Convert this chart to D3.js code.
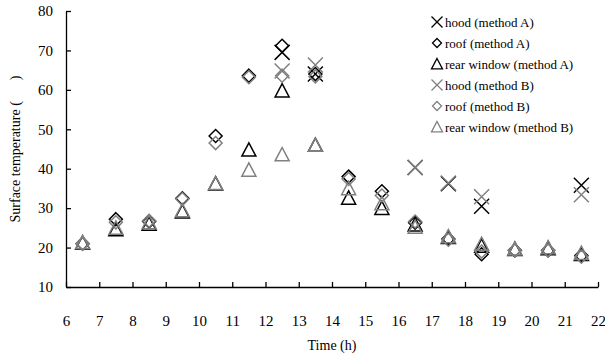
<!DOCTYPE html>
<html>
<head>
<meta charset="utf-8">
<script src="https://cdn.jsdelivr.net/npm/d3@7"></script>
<style>
    body { margin: 0; background: #fff; }
    svg text { font-family: "Liberation Serif", "Times New Roman", serif; fill: #000; }
</style>
</head>
<body>
<div id="chart"></div>
<script>
// hours at which samples were taken (plotted mid-hour)
const times = [6.5, 7.5, 8.5, 9.5, 10.5, 11.5, 12.5, 13.5, 14.5, 15.5, 16.5, 17.5, 18.5, 19.5, 20.5, 21.5];

// hood was only measured at a few times
const hoodTimes = [12.5, 13.5, 16.5, 17.5, 18.5, 21.5];
const hoodA = [69.5, 64.0, 40.3, 36.2, 30.5, 35.8];
const hoodB = [64.8, 66.3, 40.3, 36.4, 32.9, 33.4];

const roofA = [21.0, 27.2, 26.6, 32.5, 48.3, 63.6, 71.2, 64.0, 38.0, 34.3, 26.3, 22.2, 18.3, 19.3, 19.3, 18.0];
const roofB = [21.0, 26.4, 26.8, 32.3, 46.5, 63.2, 63.6, 63.4, 37.4, 33.2, 26.6, 22.0, 19.0, 19.3, 19.3, 17.7];
const rearA = [21.2, 24.6, 26.0, 29.1, 36.2, 44.8, 59.8, 46.0, 32.6, 30.0, 25.8, 22.6, 20.4, 19.6, 19.8, 18.3];
const rearB = [21.3, 25.0, 26.4, 29.4, 36.3, 39.7, 43.6, 46.0, 35.0, 31.2, 25.2, 22.8, 20.9, 19.7, 20.0, 18.6];

const xTicks = d3.range(6, 23, 1);
const yTicks = [10, 20, 30, 40, 50, 60, 70, 80];

const legendLabels = [
    'hood (method A)', 'roof (method A)', 'rear window (method A)',
    'hood (method B)', 'roof (method B)', 'rear window (method B)'
];

const width = 605, height = 358;
const margin = {top: 11, right: 7, bottom: 71, left: 66};
const innerW = width - margin.left - margin.right;
const innerH = height - margin.top - margin.bottom;

const svg = d3.select('#chart').append('svg')
    .attr('width', width)
    .attr('height', height);

const g = svg.append('g')
    .attr('transform', 'translate(' + margin.left + ',' + margin.top + ')');

const x = d3.scaleLinear().domain([6, 22]).range([0, innerW]);
const y = d3.scaleLinear().domain([10, 80]).range([innerH, 0]);

// axes: ticks point inward, like the original
const xAxis = g.append('g')
    .attr('transform', 'translate(0,' + innerH + ')')
    .call(d3.axisBottom(x).tickValues(xTicks).tickSize(-5).tickSizeOuter(0).tickPadding(28).tickFormat(d3.format('d')));

const yAxis = g.append('g')
    .call(d3.axisLeft(y).tickValues(yTicks).tickSize(-5).tickSizeOuter(0).tickPadding(13));

[xAxis, yAxis].forEach(a => {
    a.select('.domain').attr('stroke', '#000').attr('stroke-width', 1.3);
    a.selectAll('.tick line').attr('stroke', '#000').attr('stroke-width', 1.3);
    a.selectAll('.tick text').style('font-size', '15px');
});

g.append('text')
    .attr('x', innerW / 2)
    .attr('y', innerH + 63)
    .attr('text-anchor', 'middle')
    .style('font-size', '14px')
    .text('Time (h)');

svg.append('text')
    .attr('transform', 'translate(20,' + (margin.top + innerH / 2) + ') rotate(-90)')
    .attr('text-anchor', 'middle')
    .style('font-size', '14px')
    .text('Surface temperature (\u2003\u2002)');

// marker paths, centred on (0,0)
function crossPath(r) {
    return 'M' + (-r) + ',' + (-r) + 'L' + r + ',' + r + 'M' + (-r) + ',' + r + 'L' + r + ',' + (-r);
}
function diamondPath(r) {
    return 'M0,' + (-r) + 'L' + r + ',0L0,' + r + 'L' + (-r) + ',0Z';
}
function trianglePath(r) {
    return 'M0,' + (-r) + 'L' + r + ',' + (r * 0.9) + 'L' + (-r) + ',' + (r * 0.9) + 'Z';
}

const series = [
    {xs: hoodTimes, vals: hoodA, path: crossPath(7.5), color: '#000'},
    {xs: times, vals: roofA, path: diamondPath(6.5), color: '#000'},
    {xs: times, vals: rearA, path: trianglePath(7), color: '#000'},
    {xs: hoodTimes, vals: hoodB, path: crossPath(7.5), color: '#808080'},
    {xs: times, vals: roofB, path: diamondPath(6.5), color: '#808080'},
    {xs: times, vals: rearB, path: trianglePath(7), color: '#808080'}
];

series.forEach(s => {
    g.append('g').selectAll('path')
        .data(s.vals)
        .join('path')
        .attr('transform', (d, i) => 'translate(' + x(s.xs[i]) + ',' + y(d) + ')')
        .attr('d', s.path)
        .attr('fill', 'none')
        .attr('stroke', s.color)
        .attr('stroke-width', 1.5);
});

// legend
const legendSmall = [crossPath(5.5), diamondPath(4.5), trianglePath(5.5), crossPath(5.5), diamondPath(4.5), trianglePath(5.5)];
const legend = svg.append('g').attr('transform', 'translate(437,22)');
legendLabels.forEach((label, i) => {
    const row = legend.append('g').attr('transform', 'translate(0,' + (i * 21) + ')');
    row.append('path')
        .attr('d', legendSmall[i])
        .attr('fill', 'none')
        .attr('stroke', series[i].color)
        .attr('stroke-width', 1.3);
    row.append('text')
        .attr('x', 8)
        .attr('y', 4.5)
        .style('font-size', '13px')
        .text(label);
});
</script>
</body>
</html>
